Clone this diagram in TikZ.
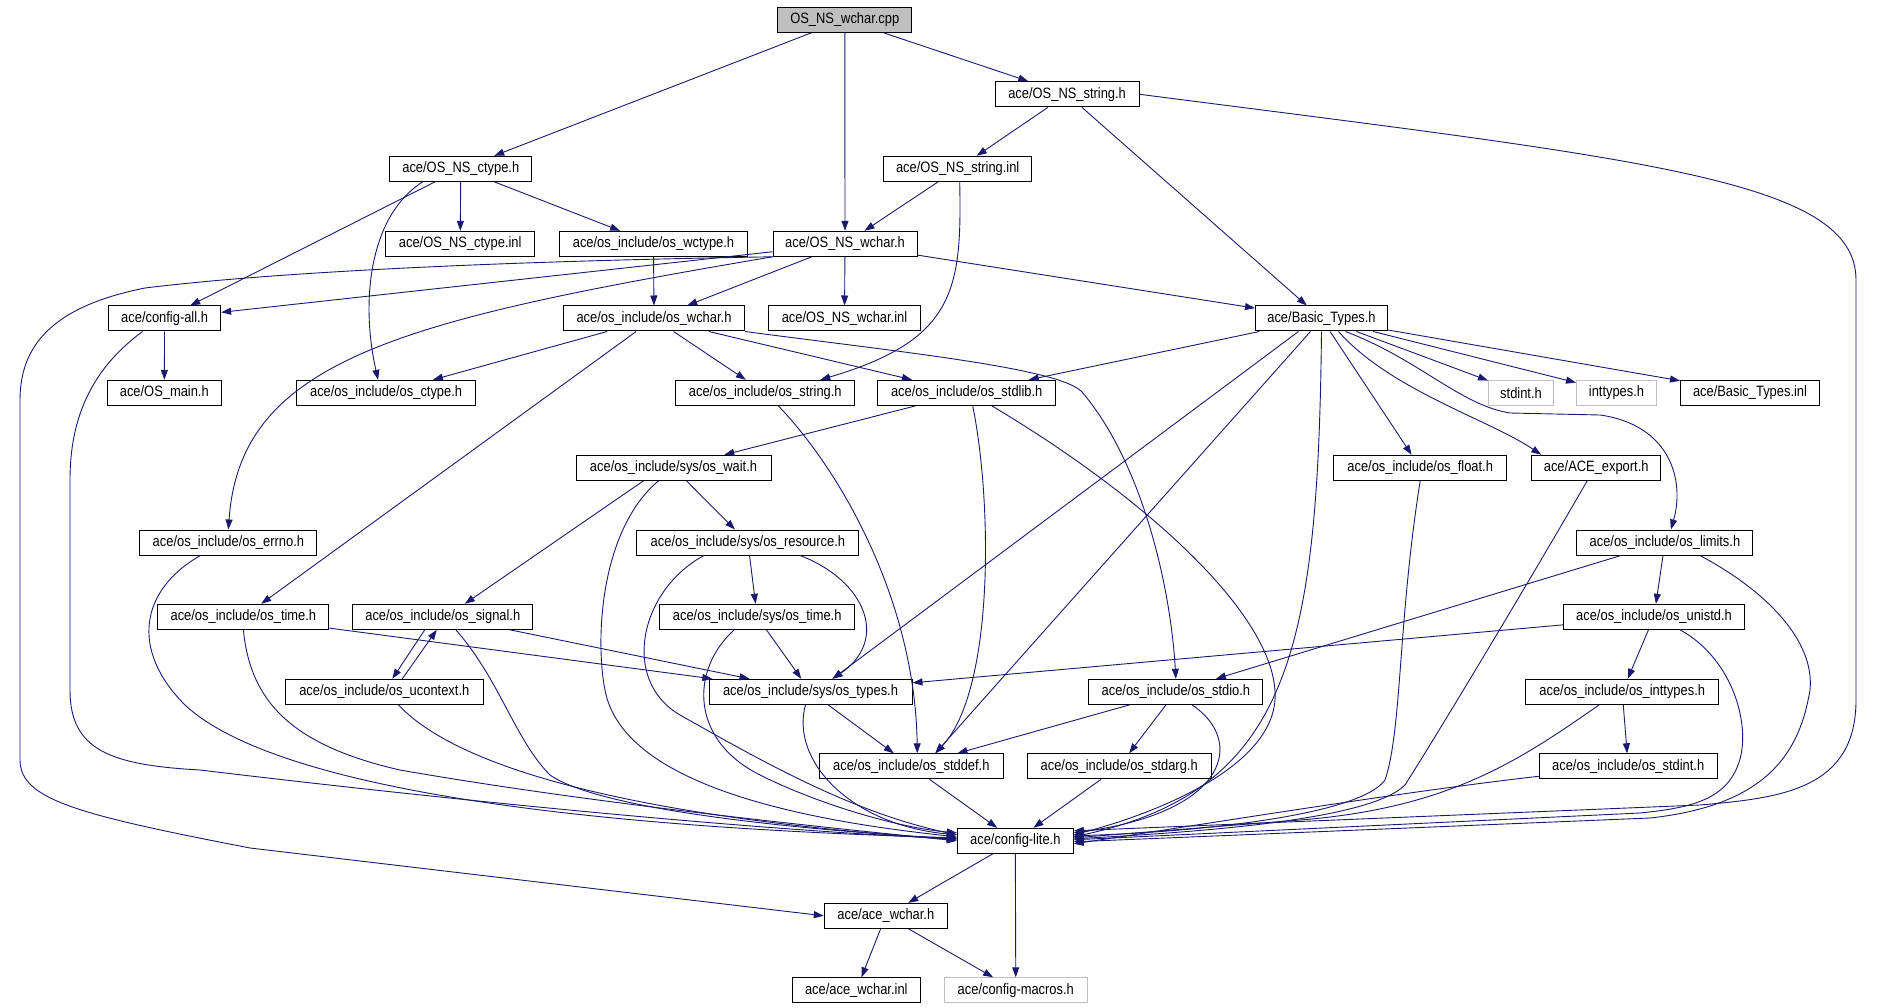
\documentclass[tikz,border=0pt]{standalone}
\usepackage{fontspec}
\newfontfamily\filefont[FakeStretch=0.86]{Liberation Sans}
\usetikzlibrary{arrows.meta}
\definecolor{edgeblue}{HTML}{191970}
\definecolor{boxgray}{HTML}{BFBFBF}

\begin{document}
\begin{tikzpicture}[x=1pt,y=-1pt,>={Stealth[inset=0pt,length=10pt,width=7pt]},
    file/.style={draw=black,line width=1pt,minimum height=25pt,inner sep=0pt,
      font=\filefont\fontsize{15}{16}\selectfont},
    extfile/.style={file,draw=boxgray},
    dep/.style={->,draw=edgeblue,line width=0.9pt}]
      \useasboundingbox (0,0) rectangle (1880,1008);
      \def\rowa{19.8}
      \def\rowb{94.3}
      \def\rowc{168.8}
      \def\rowd{243.8}
      \def\rowe{318.5}
      \def\rowf{392.8}
      \def\rowg{467.8}
      \def\rowh{542.5}
      \def\rowi{616.8}
      \def\rowj{691.8}
      \def\rowk{766.3}
      \def\rowl{840.8}
      \def\rowm{915.8}
      \def\rown{990.3}
      % files
      \node [file,fill=boxgray,minimum width=134pt] (cpp) at (844.8,\rowa) {OS\_NS\_wchar.cpp};
      \node [file,minimum width=144pt] (stringh) at (1067.1,\rowb) {ace/OS\_NS\_string.h};
      \node [file,minimum width=142pt] (ctypeh) at (460.8,\rowc) {ace/OS\_NS\_ctype.h};
      \node [file,minimum width=148pt] (stringinl) at (957.7,\rowc) {ace/OS\_NS\_string.inl};
      \node [file,minimum width=149pt] (ctypeinl) at (460.2,\rowd) {ace/OS\_NS\_ctype.inl};
      \node [file,minimum width=188pt] (wctype) at (653.5,\rowd) {ace/os\_include/os\_wctype.h};
      \node [file,minimum width=144pt] (wcharh) at (845,\rowd) {ace/OS\_NS\_wchar.h};
      \node [file,minimum width=112pt] (configall) at (164.6,\rowe) {ace/config-all.h};
      \node [file,minimum width=181pt] (oswchar) at (654,\rowe) {ace/os\_include/os\_wchar.h};
      \node [file,minimum width=152pt] (wcharinl) at (844.5,\rowe) {ace/OS\_NS\_wchar.inl};
      \node [file,minimum width=132pt] (basictypes) at (1321.5,\rowe) {ace/Basic\_Types.h};
      \node [file,minimum width=114pt] (osmain) at (164.3,\rowf) {ace/OS\_main.h};
      \node [file,minimum width=179pt] (osctype) at (386.1,\rowf) {ace/os\_include/os\_ctype.h};
      \node [file,minimum width=179pt] (osstring) at (765.3,\rowf) {ace/os\_include/os\_string.h};
      \node [file,minimum width=178pt] (osstdlib) at (966.7,\rowf) {ace/os\_include/os\_stdlib.h};
      \node [extfile,minimum width=65pt] (stdint) at (1521,\rowf) {stdint.h};
      \node [extfile,minimum width=80pt] (inttypes) at (1616.5,\rowf) {inttypes.h};
      \node [file,minimum width=139pt] (basicinl) at (1750,\rowf) {ace/Basic\_Types.inl};
      \node [file,minimum width=195pt] (oswait) at (673.5,\rowg) {ace/os\_include/sys/os\_wait.h};
      \node [file,minimum width=173pt] (osfloat) at (1420.2,\rowg) {ace/os\_include/os\_float.h};
      \node [file,minimum width=129pt] (export) at (1596.2,\rowg) {ace/ACE\_export.h};
      \node [file,minimum width=177pt] (oserrno) at (228.4,\rowh) {ace/os\_include/os\_errno.h};
      \node [file,minimum width=222pt] (osresource) at (747.9,\rowh) {ace/os\_include/sys/os\_resource.h};
      \node [file,minimum width=176pt] (oslimits) at (1664.9,\rowh) {ace/os\_include/os\_limits.h};
      \node [file,minimum width=171pt] (ostime) at (243.4,\rowi) {ace/os\_include/os\_time.h};
      \node [file,minimum width=180pt] (ossignal) at (442.8,\rowi) {ace/os\_include/os\_signal.h};
      \node [file,minimum width=195pt] (ossystime) at (757.2,\rowi) {ace/os\_include/sys/os\_time.h};
      \node [file,minimum width=181pt] (osunistd) at (1654,\rowi) {ace/os\_include/os\_unistd.h};
      \node [file,minimum width=198pt] (osucontext) at (384.3,\rowj) {ace/os\_include/os\_ucontext.h};
      \node [file,minimum width=203pt] (ostypes) at (810.5,\rowj) {ace/os\_include/sys/os\_types.h};
      \node [file,minimum width=174pt] (osstdio) at (1175.9,\rowj) {ace/os\_include/os\_stdio.h};
      \node [file,minimum width=193pt] (osinttypes) at (1622.2,\rowj) {ace/os\_include/os\_inttypes.h};
      \node [file,minimum width=184pt] (osstddef) at (911.3,\rowk) {ace/os\_include/os\_stddef.h};
      \node [file,minimum width=184pt] (osstdarg) at (1119.2,\rowk) {ace/os\_include/os\_stdarg.h};
      \node [file,minimum width=178pt] (osstdint) at (1628.2,\rowk) {ace/os\_include/os\_stdint.h};
      \node [file,minimum width=116pt] (configlite) at (1015.3,\rowl) {ace/config-lite.h};
      \node [file,minimum width=123pt] (acewchar) at (885.8,\rowm) {ace/ace\_wchar.h};
      \node [file,minimum width=128pt] (acewcharinl) at (856.3,\rown) {ace/ace\_wchar.inl};
      \node [extfile,minimum width=143pt] (configmacros) at (1015.8,\rown) {ace/config-macros.h};
      % includes
      \draw [dep] (cpp) -- (ctypeh);
      \draw [dep] (cpp) -- (wcharh);
      \draw [dep] (cpp) -- (stringh);
      \draw [dep] (stringh) -- (stringinl);
      \draw [dep] (stringh) -- (basictypes);
      \draw [dep] (stringh.east) .. controls (1650,160) and (1856,180) .. (1856,280) -- (1856,700)
        .. controls (1856,790) and (1780,798) .. (1700,805) -- ([yshift=10]configlite.east);
      \draw [dep] (stringinl) -- (wcharh);
      \draw [dep] ([xshift=2]stringinl.south) .. controls (962,290) and (955,340) .. ([xshift=55]osstring.north);
      \draw [dep] (ctypeh) -- (configall);
      \draw [dep] ([xshift=-38]ctypeh.south) .. controls (370,215) and (360,300) .. ([xshift=-8]osctype.north);
      \draw [dep] (ctypeh) -- (ctypeinl);
      \draw [dep] (ctypeh) -- (wctype);
      \draw [dep] (wctype) -- (oswchar);
      \draw [dep] (wcharh) -- (configall);
      \draw [dep] (wcharh.south west) .. controls (400,320) and (240,360) .. (oserrno.north);
      \draw [dep] (wcharh.south west) .. controls (450,262) and (250,275) .. (145,288)
        .. controls (60,305) and (20,340) .. (20,400) -- (20,760)
        .. controls (20,800) and (80,815) .. (250,848) -- (acewchar.west);
      \draw [dep] (wcharh) -- (oswchar);
      \draw [dep] (wcharh) -- (wcharinl);
      \draw [dep] (wcharh) -- (basictypes);
      \draw [dep] (configall) -- (osmain);
      \draw [dep] ([xshift=-22]configall.south) .. controls (90,370) and (70,420) .. (70,480) -- (70,690)
        .. controls (70,750) and (110,765) .. (200,770) .. controls (450,800) and (750,830) .. ([yshift=2]configlite.west);
      \draw [dep] (oswchar) -- (osctype);
      \draw [dep] (oswchar) -- (ostime);
      \draw [dep] (oswchar) -- (osstring);
      \draw [dep] (oswchar) -- (osstdlib);
      \draw [dep] (oswchar.south east) .. controls (900,352) and (1060,368) .. (1082,392)
        .. controls (1140,460) and (1170,580) .. (osstdio.north);
      \draw [dep] ([xshift=13]osstring.south) .. controls (840,470) and (915,600) .. ([xshift=6]osstddef.north);
      \draw [dep] (osstdlib) -- (oswait);
      \draw [dep] ([xshift=6]osstdlib.south) .. controls (992,500) and (995,690) .. ([xshift=24]osstddef.north);
      \draw [dep] ([xshift=25]osstdlib.south) .. controls (1150,500) and (1280,620) .. (1275,700)
        .. controls (1270,770) and (1150,815) .. ([yshift=6]configlite.east);
      \draw [dep] (basictypes) -- (osstdlib);
      \draw [dep] ([xshift=-23]basictypes.south) -- ([xshift=22]ostypes.north);
      \draw [dep] ([xshift=-11]basictypes.south) -- ([xshift=24]osstddef.north);
      \draw [dep] (basictypes.south) .. controls (1318,650) and (1290,790) .. ([yshift=4]configlite.east);
      \draw [dep] (basictypes) -- (osfloat);
      \draw [dep] ([xshift=17]basictypes.south) .. controls (1390,390) and (1490,420) .. ([xshift=-55]export.north);
      \draw [dep] ([xshift=24]basictypes.south) .. controls (1420,360) and (1460,405) .. (1510,413) -- (1600,415)
        .. controls (1670,425) and (1685,480) .. ([xshift=6]oslimits.north);
      \draw [dep] (basictypes) -- (stdint);
      \draw [dep] (basictypes) -- (inttypes);
      \draw [dep] (basictypes) -- (basicinl);
      \draw [dep] ([xshift=-30]oswait.south) -- ([xshift=22]ossignal.north);
      \draw [dep] (oswait) -- (osresource);
      \draw [dep] ([xshift=-15]oswait.south) .. controls (600,530) and (595,640) .. (605,690)
        .. controls (620,770) and (750,815) .. ([yshift=4]configlite.west);
      \draw [dep] (osresource) -- (ossystime);
      \draw [dep] ([xshift=-44]osresource.south) .. controls (640,590) and (620,680) .. (680,715)
        .. controls (760,760) and (850,812) .. ([yshift=6]configlite.west);
      \draw [dep] ([xshift=52]osresource.south) .. controls (865,580) and (890,640) .. ([xshift=22]ostypes.north);
      \draw [dep] (ossystime) -- (ostypes);
      \draw [dep] ([xshift=-23]ossystime.south) .. controls (690,670) and (690,740) .. (760,775)
        .. controls (820,805) and (900,828) .. ([yshift=8]configlite.west);
      \draw [dep] (ostime) -- (ostypes);
      \draw [dep] (ostime.south) .. controls (250,700) and (290,745) .. (400,770)
        .. controls (600,805) and (850,830) .. (configlite.west);
      \draw [dep] ([xshift=-18]ossignal.south) -- ([xshift=8]osucontext.north);
      \draw [dep] ([xshift=18]osucontext.north) -- ([xshift=-6]ossignal.south);
      \draw [dep] ([xshift=67]ossignal.south) -- ([xshift=-61]ostypes.north);
      \draw [dep] ([xshift=13]ossignal.south) .. controls (500,680) and (515,740) .. (550,775)
        .. controls (600,810) and (800,830) .. ([yshift=2]configlite.west);
      \draw [dep] ([xshift=14]osucontext.south) .. controls (450,760) and (600,815) .. ([yshift=1]configlite.west);
      \draw [dep] ([xshift=-28]oserrno.south) .. controls (140,590) and (130,650) .. (185,705)
        .. controls (260,775) and (500,825) .. ([yshift=3]configlite.west);
      \draw [dep] (ostypes) -- (osstddef);
      \draw [dep] ([xshift=-5]ostypes.south) .. controls (790,760) and (850,825) .. ([yshift=6]configlite.west);
      \draw [dep] (osstdio) -- (osstddef);
      \draw [dep] (osstdio) -- (osstdarg);
      \draw [dep] ([xshift=16]osstdio.south) .. controls (1245,740) and (1230,812) .. ([yshift=8]configlite.east);
      \draw [dep] (osstdarg) -- (configlite);
      \draw [dep] (osstddef) -- (configlite);
      \draw [dep] (osfloat.south) .. controls (1398,620) and (1402,730) .. (1385,780)
        .. controls (1360,815) and (1200,832) .. ([yshift=5]configlite.east);
      \draw [dep] ([xshift=-9]export.south) .. controls (1530,580) and (1440,730) .. (1405,785)
        .. controls (1370,820) and (1200,832) .. ([yshift=2]configlite.east);
      \draw [dep] (oslimits) -- (osunistd);
      \draw [dep] ([xshift=-44]oslimits.south) -- ([xshift=40]osstdio.north);
      \draw [dep] ([xshift=35]oslimits.south) .. controls (1765,590) and (1815,640) .. (1810,690)
        .. controls (1800,750) and (1770,805) .. (1650,818) -- ([yshift=-1]configlite.east);
      \draw [dep] (osunistd) -- (ostypes);
      \draw [dep] (osunistd) -- (osinttypes);
      \draw [dep] ([xshift=26]osunistd.south) .. controls (1735,660) and (1752,730) .. (1738,765)
        .. controls (1725,800) and (1690,808) .. (1640,813) -- ([yshift=1]configlite.east);
      \draw [dep] (osinttypes) -- (osstdint);
      \draw [dep] ([xshift=-23]osinttypes.south) .. controls (1520,760) and (1450,808) .. (1300,820)
        -- ([yshift=3]configlite.east);
      \draw [dep] ([yshift=-10]osstdint.west) .. controls (1400,792) and (1200,825) .. ([yshift=-3]configlite.east);
      \draw [dep] (configlite) -- (acewchar);
      \draw [dep] (configlite) -- (configmacros);
      \draw [dep] (acewchar) -- (acewcharinl);
      \draw [dep] (acewchar) -- (configmacros);
\end{tikzpicture}
\end{document}
